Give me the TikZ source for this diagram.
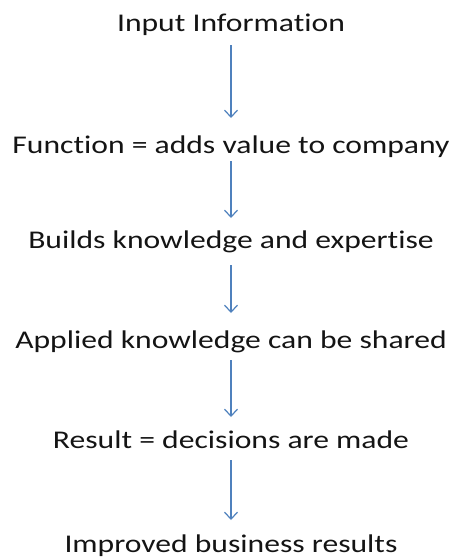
\documentclass[tikz,border=0pt]{standalone}
\usepackage{fontspec}
\setmainfont{Carlito}[FakeStretch=1.24,Ligatures=NoCommon]
\usetikzlibrary{arrows.meta}
\definecolor{flowblue}{RGB}{79,129,189}
\definecolor{ink}{RGB}{20,20,20}
\begin{document}
\begin{tikzpicture}[x=1pt,y=-1pt,
  stage/.style={anchor=base,inner sep=0pt,text=ink,font=\fontsize{25.5}{30}\selectfont},
  flow/.style={draw=flowblue,line width=1.2pt,-{Straight Barb[length=7pt,width=13pt,line width=1.2pt]}}]
  \useasboundingbox (0,0) rectangle (452,557);
  \node[stage] (s1) at (231,31)  {Input Information};
  \node[stage] (s2) at (231,153) {Function = adds value to company};
  \node[stage] (s3) at (231,248) {Builds knowledge and expertise};
  \node[stage] (s4) at (231,348) {Applied knowledge can be shared};
  \node[stage] (s5) at (231,448) {Result = decisions are made};
  \node[stage] (s6) at (231,552) {Improved business results};
  \draw[flow] ([yshift=-14pt]s1.base) -- ([yshift=35pt]s2.base);
  \draw[flow] ([yshift=-8pt]s2.base) -- ([yshift=30pt]s3.base);
  \draw[flow] ([yshift=-17pt]s3.base) -- ([yshift=35pt]s4.base);
  \draw[flow] ([yshift=-12pt]s4.base) -- ([yshift=31pt]s5.base);
  \draw[flow] ([yshift=-12pt]s5.base) -- ([yshift=32pt]s6.base);
\end{tikzpicture}
\end{document}
